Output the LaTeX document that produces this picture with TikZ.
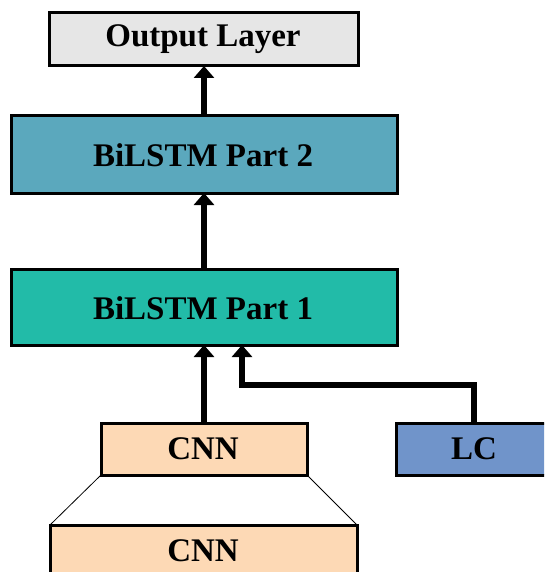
\documentclass[tikz,border=0pt]{standalone}
\usepackage{fontspec}
\setmainfont{Liberation Serif}
\usetikzlibrary{arrows.meta}
\definecolor{outfill}{HTML}{E6E6E6}
\definecolor{bilstmtwo}{HTML}{5BA8BD}
\definecolor{bilstmone}{HTML}{22BBA8}
\definecolor{cnnfill}{HTML}{FDD9B5}
\definecolor{lcfill}{HTML}{7094CA}
\begin{document}
\begin{tikzpicture}[x=1pt,y=-1pt,
  layer/.style={draw=black,line width=3pt},
  label/.style={font=\bfseries\fontsize{33}{35}\selectfont},
  flow/.style={line width=6pt,-{Triangle[width=20pt,length=12pt]}}]
\useasboundingbox (0,0) rectangle (544,572);
\clip (0,0) rectangle (544,572);
% layer boxes
\draw[layer,fill=outfill] (49,13) rectangle (358,66);
\node[label] (out) at (203,39.5) {Output Layer};
\coordinate (outS) at (204,66);
\draw[layer,fill=bilstmtwo] (11,116) rectangle (397,193);
\node[label] (b2) at (203,155) {BiLSTM Part 2};
\coordinate (b2N) at (204,116);
\coordinate (b2S) at (204,193);
\draw[layer,fill=bilstmone] (11,269) rectangle (397,345);
\node[label] (b1) at (203,308) {BiLSTM Part 1};
\coordinate (b1N) at (204,269);
\coordinate (b1S) at (204,345);
\coordinate (b1Sr) at (242,345);
\draw[layer,fill=cnnfill] (101,423) rectangle (307,475);
\node[label] (cnn) at (203,449) {CNN};
\coordinate (cnnN) at (204,423);
\draw[layer,fill=lcfill] (396,423) rectangle (568,475);
\node[label] (lc) at (474,449) {LC};
\coordinate (lcN) at (474,423);
\draw[layer,fill=cnnfill] (50,525) rectangle (357,600);
\node[label] (cnn2) at (203,551) {CNN};
% zoom lines between the two CNN boxes
\draw[line width=0.8pt] (101,475) -- (50,525) (307,475) -- (357,525);
% connectors
\draw[flow] (b2N) -- (outS);
\draw[flow] (b1N) -- (b2S);
\draw[flow] (cnnN) -- (b1S);
\draw[flow] (lcN) -- (474,385) -- (242,385) -- (b1Sr);
\end{tikzpicture}
\end{document}
